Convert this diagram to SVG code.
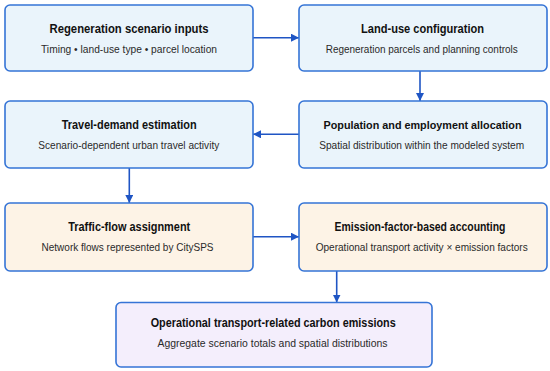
<svg xmlns="http://www.w3.org/2000/svg" width="550" height="371" viewBox="0 0 550 371">
<style>
.box{stroke:#3574d6;stroke-width:1.6}
.blue{fill:#eaf4fb}
.orange{fill:#fdf3e6}
.purple{fill:#f4eefc}
.t{font-family:"Liberation Sans",Arial,sans-serif;font-weight:bold;font-size:12.5px;fill:#111;text-anchor:middle}
.s{font-family:"Liberation Sans",Arial,sans-serif;font-size:11px;fill:#2a2a2a;text-anchor:middle}
.c{stroke:#1f55c4;stroke-width:1.6;fill:none}
</style>
<defs>
<marker id="ah" viewBox="0 0 10 10" refX="10" refY="5" markerWidth="8" markerHeight="8" markerUnits="userSpaceOnUse" orient="auto">
<path d="M0,0 L10,5 L0,10 Z" fill="#1f55c4"/>
</marker>
</defs>
<rect width="550" height="371" fill="#ffffff"/>
<g id="connectors">
<line class="c" x1="253" y1="37.7" x2="299" y2="37.7" marker-end="url(#ah)"/>
<line class="c" x1="420" y1="71" x2="420" y2="101" marker-end="url(#ah)"/>
<line class="c" x1="299" y1="134.3" x2="253" y2="134.3" marker-end="url(#ah)"/>
<line class="c" x1="129.3" y1="168" x2="129.3" y2="203" marker-end="url(#ah)"/>
<line class="c" x1="253" y1="236.7" x2="299" y2="236.7" marker-end="url(#ah)"/>
<line class="c" x1="336.7" y1="271" x2="336.7" y2="302.5" marker-end="url(#ah)"/>
</g>
<g id="node-inputs">
<rect class="box blue" x="5" y="5" width="248" height="66" rx="5"/>
<text class="t" x="129" y="33" textLength="159" lengthAdjust="spacingAndGlyphs">Regeneration scenario inputs</text>
<text class="s" x="129" y="53" textLength="176" lengthAdjust="spacingAndGlyphs">Timing • land-use type • parcel location</text>
</g>
<g id="node-landuse">
<rect class="box blue" x="299" y="5" width="248" height="66" rx="5"/>
<text class="t" x="422.5" y="33" textLength="123" lengthAdjust="spacingAndGlyphs">Land-use configuration</text>
<text class="s" x="421.7" y="53" textLength="192" lengthAdjust="spacingAndGlyphs">Regeneration parcels and planning controls</text>
</g>
<g id="node-travel">
<rect class="box blue" x="5" y="101" width="248" height="67" rx="5"/>
<text class="t" x="129.2" y="129" textLength="135" lengthAdjust="spacingAndGlyphs">Travel-demand estimation</text>
<text class="s" x="128.8" y="149" textLength="181" lengthAdjust="spacingAndGlyphs">Scenario-dependent urban travel activity</text>
</g>
<g id="node-population">
<rect class="box blue" x="299" y="101" width="248" height="67" rx="5"/>
<text class="t" x="422.5" y="129" style="font-size:11.8px" textLength="198" lengthAdjust="spacingAndGlyphs">Population and employment allocation</text>
<text class="s" x="421.7" y="149" textLength="205" lengthAdjust="spacingAndGlyphs">Spatial distribution within the modeled system</text>
</g>
<g id="node-traffic">
<rect class="box orange" x="5" y="203" width="248" height="68" rx="5"/>
<text class="t" x="129.2" y="231" textLength="122" lengthAdjust="spacingAndGlyphs">Traffic-flow assignment</text>
<text class="s" x="127.5" y="251" textLength="172" lengthAdjust="spacingAndGlyphs">Network flows represented by CitySPS</text>
</g>
<g id="node-emission">
<rect class="box orange" x="299" y="203" width="248" height="68" rx="5"/>
<text class="t" x="420" y="231" textLength="171" lengthAdjust="spacingAndGlyphs">Emission-factor-based accounting</text>
<text class="s" x="421.7" y="251" textLength="212" lengthAdjust="spacingAndGlyphs">Operational transport activity × emission factors</text>
</g>
<g id="node-carbon">
<rect class="box purple" x="116" y="302.5" width="316" height="64.5" rx="5"/>
<text class="t" x="273.2" y="327" textLength="245" lengthAdjust="spacingAndGlyphs">Operational transport-related carbon emissions</text>
<text class="s" x="272.5" y="347" textLength="230" lengthAdjust="spacingAndGlyphs">Aggregate scenario totals and spatial distributions</text>
</g>
</svg>
